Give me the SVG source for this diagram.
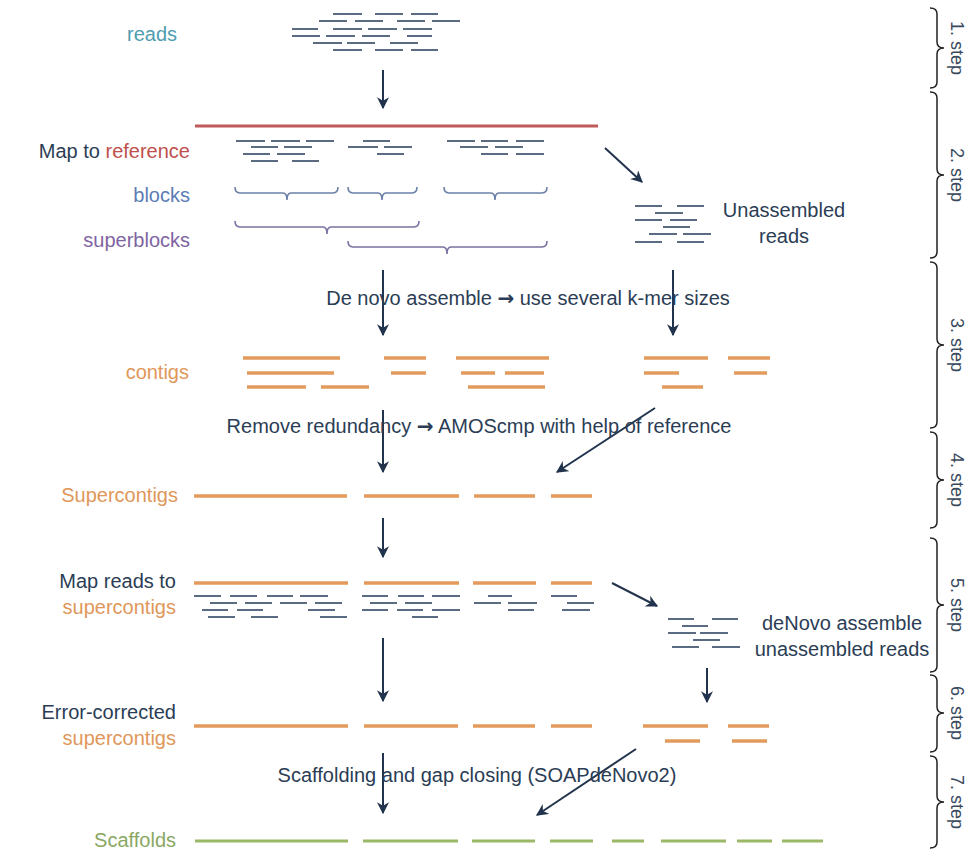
<svg xmlns="http://www.w3.org/2000/svg" width="970" height="852" viewBox="0 0 970 852">
<defs>
<marker id="ah" viewBox="0 0 10 10" refX="9" refY="5" markerWidth="6" markerHeight="6" orient="auto" markerUnits="strokeWidth">
<path d="M0,0 L10,5 L0,10 L3,5 z" fill="#22344d"/>
</marker>
</defs>
<style>
text{font-family:"Liberation Sans",Arial,sans-serif;font-size:20px;fill:#2b3d55}
.lab{text-anchor:end}
.mid{text-anchor:middle}
.ar{font-family:"DejaVu Sans",sans-serif;font-weight:bold}
.rd{stroke:#5b6b82;stroke-width:2;fill:none}
.ct{stroke:#e49a5c;stroke-width:3.5;fill:none}
.sc{stroke:#9bb868;stroke-width:3;fill:none}
.ref{stroke:#bf5a5a;stroke-width:3;fill:none}
.br{stroke:#6b80a8;stroke-width:1.6;fill:none}
.sbr{stroke:#7a72a0;stroke-width:1.6;fill:none}
.stp{stroke:#222;stroke-width:1.5;fill:none}
.arr{stroke:#22344d;stroke-width:2;fill:none;marker-end:url(#ah)}
.step{font-size:18px;fill:#3a4a5e;text-anchor:middle;dominant-baseline:central}
</style>
<rect width="970" height="852" fill="#fff"/>

<g id="connectors">
<line class="arr" x1="383" y1="70" x2="383" y2="108"/>
<line class="arr" x1="605" y1="148" x2="642" y2="182"/>
<line class="arr" x1="383" y1="270" x2="383" y2="335"/>
<line class="arr" x1="673" y1="270" x2="673" y2="335"/>
<line class="arr" x1="383" y1="410" x2="383" y2="472"/>
<line class="arr" x1="655" y1="408" x2="557" y2="472"/>
<line class="arr" x1="383" y1="518" x2="383" y2="557"/>
<line class="arr" x1="612" y1="583" x2="657" y2="606"/>
<line class="arr" x1="383" y1="638" x2="383" y2="701"/>
<line class="arr" x1="707" y1="668" x2="707" y2="702"/>
<line class="arr" x1="383" y1="753" x2="383" y2="813"/>
<line class="arr" x1="636" y1="749" x2="537" y2="815"/>
</g>

<g id="reads">
<text class="lab" x="177" y="41" style="fill:#4f9db0">reads</text>
<path class="rd" d="M333,14H362M375,14H403M411,14H438M319,21H347M355,21H383M397,21H425M432,21H460M292,29H318M333,29H362M368,29H397M403,29H432M292,36H320M326,36H355M362,36H390M407,36H432M313,43H342M347,43H375M390,43H418M333,50H362M375,50H403M411,50H438"/>
</g>

<g id="map-to-reference">
<text class="lab" x="190" y="158">Map to <tspan style="fill:#c0504d">reference</tspan></text>
<line class="ref" x1="195" y1="126" x2="598" y2="126"/>
<path class="rd" d="M236,141H265M271,141H300M306,141H334M363,141H390M447,141H475M481,141H508M516,141H544M251,147H278M284,147H312M348,147H378M384,147H412M460,147H488M495,147H523M243,154H270M277,154H305M377,154H404M481,154H508M516,154H544M251,161H278M292,161H319"/>
</g>

<g id="blocks">
<text class="lab" x="190" y="202" style="fill:#5b7db5">blocks</text>
<path class="br" d="M235,187Q235,193 240,193L283,193Q287,193 287,200Q287,193 291,193L333,193Q338,193 338,187"/>
<path class="br" d="M348,187Q348,193 353,193L378,193Q382,193 382,200Q382,193 386,193L412,193Q417,193 417,187"/>
<path class="br" d="M444,187Q444,193 449,193L491,193Q495,193 495,200Q495,193 499,193L542,193Q547,193 547,187"/>
</g>

<g id="superblocks">
<text class="lab" x="190" y="247" style="fill:#8064a2">superblocks</text>
<path class="sbr" d="M235,221Q235,227 240,227L323,227Q327,227 327,234Q327,227 331,227L414,227Q419,227 419,221"/>
<path class="sbr" d="M348,241Q348,247 353,247L443,247Q447,247 447,254Q447,247 451,247L542,247Q547,247 547,241"/>
</g>

<g id="unassembled-reads">
<path class="rd" d="M635,206H662M677,206H704M655,213H683M635,220H662M670,220H697M663,227H690M649,234H677M683,234H711M635,242H662M677,242H704"/>
<text class="mid" x="784" y="217">Unassembled</text>
<text class="mid" x="784" y="243">reads</text>
</g>

<g id="denovo-assemble">
<text class="mid" x="528" y="305">De novo assemble <tspan class="ar">→</tspan> use several k-mer sizes</text>
</g>

<g id="contigs">
<text class="lab" x="189" y="379" style="fill:#e0975a">contigs</text>
<path class="ct" d="M243,358H340M384,358H426M456,358H549M644,358H708M728,358H770M247,373H334M391,373H426M461,373H495M505,373H544M644,373H679M734,373H767M247,387H306M321,387H369M468,387H545M662,387H703"/>
</g>

<g id="remove-redundancy">
<text class="mid" x="479" y="433">Remove redundancy <tspan class="ar">→</tspan> AMOScmp with help of reference</text>
</g>

<g id="supercontigs">
<text class="lab" x="178" y="502" style="fill:#e0975a">Supercontigs</text>
<path class="ct" d="M194,496H347M364,496H459M474,496H535M551,496H592"/>
</g>

<g id="map-reads">
<text class="lab" x="176" y="588">Map reads to</text>
<text class="lab" x="176" y="614" style="fill:#e0975a">supercontigs</text>
<path class="ct" d="M194,583H348M364,583H459M473,583H536M551,583H592"/>
<path class="rd" d="M194,596H221M230,596H257M267,596H293M300,596H328M362,596H388M398,596H424M432,596H460M488,596H512M551,596H577M210,603H237M245,603H272M280,603H307M315,603H342M370,603H397M405,603H432M474,603H501M508,603H537M567,603H594M202,610H228M237,610H263M308,610H335M362,610H388M397,610H423M432,610H460M508,610H534M562,610H590M208,617H235M251,617H278M320,617H347M412,617H438"/>
</g>

<g id="denovo-unassembled">
<path class="rd" d="M668,619H694M712,619H738M682,626H708M668,633H696M700,633H728M693,640H720M672,647H699M712,647H740"/>
<text class="mid" x="842" y="630">deNovo assemble</text>
<text class="mid" x="842" y="656">unassembled reads</text>
</g>

<g id="error-corrected">
<text class="lab" x="176" y="719">Error-corrected</text>
<text class="lab" x="176" y="745" style="fill:#e0975a">supercontigs</text>
<path class="ct" d="M194,726H348M364,726H458M473,726H535M551,726H592M643,726H708M728,726H769M665,741H700M732,741H767"/>
</g>

<g id="scaffolding">
<text class="mid" x="477" y="782">Scaffolding and gap closing (SOAPdeNovo2)</text>
</g>

<g id="scaffolds">
<text class="lab" x="176" y="847" style="fill:#8aa864">Scaffolds</text>
<path class="sc" d="M195,841H348M363,841H458M472,841H535M550,841H593M612,841H644M661,841H726M737,841H772M782,841H823"/>
</g>

<g id="steps">
<path class="stp" d="M930,8Q937,8 937,14L937,42Q937,48 944,48Q937,48 937,54L937,82Q937,88 930,88"/>
<text class="step" transform="translate(957,48) rotate(90)">1. step</text>
<path class="stp" d="M930,92Q937,92 937,98L937,169Q937,175 944,175Q937,175 937,181L937,252Q937,258 930,258"/>
<text class="step" transform="translate(957,175) rotate(90)">2. step</text>
<path class="stp" d="M930,262Q937,262 937,268L937,339Q937,345 944,345Q937,345 937,351L937,422Q937,428 930,428"/>
<text class="step" transform="translate(957,345) rotate(90)">3. step</text>
<path class="stp" d="M930,432Q937,432 937,438L937,474Q937,480 944,480Q937,480 937,486L937,522Q937,528 930,528"/>
<text class="step" transform="translate(957,480) rotate(90)">4. step</text>
<path class="stp" d="M930,538Q937,538 937,544L937,599Q937,605 944,605Q937,605 937,611L937,666Q937,672 930,672"/>
<text class="step" transform="translate(957,605) rotate(90)">5. step</text>
<path class="stp" d="M930,675Q937,675 937,681L937,707Q937,713 944,713Q937,713 937,719L937,746Q937,752 930,752"/>
<text class="step" transform="translate(957,713) rotate(90)">6. step</text>
<path class="stp" d="M930,756Q937,756 937,762L937,796Q937,802 944,802Q937,802 937,808L937,842Q937,848 930,848"/>
<text class="step" transform="translate(957,802) rotate(90)">7. step</text>
</g>
</svg>
